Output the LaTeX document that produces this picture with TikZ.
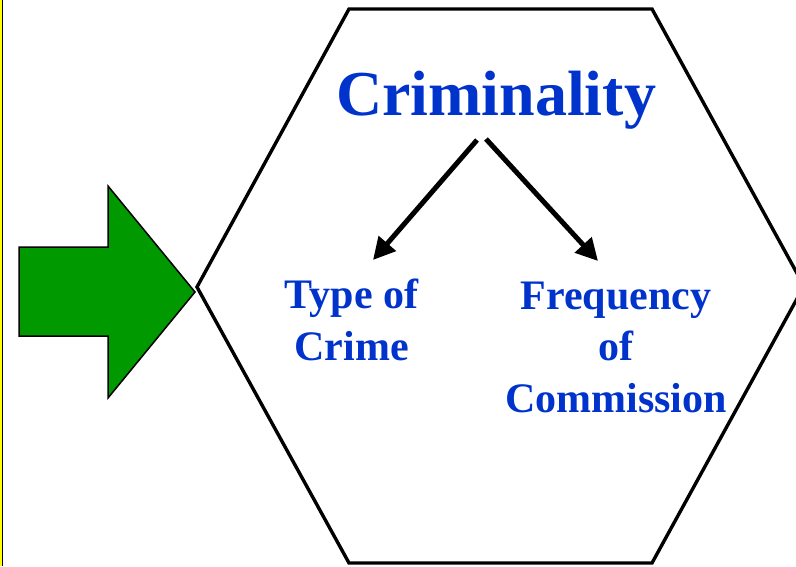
\documentclass[tikz,border=0pt]{standalone}
\usepackage{fontspec}
\setmainfont{Liberation Serif}
\usetikzlibrary{arrows.meta}
\definecolor{txtblue}{RGB}{0,51,204}
\definecolor{arrgreen}{RGB}{0,153,0}
\definecolor{stripe}{RGB}{255,255,0}
\tikzset{
  title/.style={text=txtblue, font=\fontsize{64}{70}\selectfont\bfseries, inner sep=0pt, anchor=base},
  sublabel/.style={text=txtblue, font=\fontsize{42}{51.5}\selectfont\bfseries, inner sep=0pt, align=center, anchor=base},
  hexline/.style={draw=black, line width=3.4pt, line join=miter},
  branch/.style={draw=black, line width=5pt, -{Triangle[length=22pt,width=22pt]}},
  bigarrow/.style={draw=black, fill=arrgreen, line width=1.5pt, line join=miter}
}
\begin{document}
\begin{tikzpicture}[x=1pt,y=-1pt]
\useasboundingbox (0,0) rectangle (796,566);
\clip (0,0) rectangle (796,566);
\fill[white] (0,0) rectangle (796,566);
% left stripe
\fill[stripe] (0,0) rectangle (2,566);
\draw[black, line width=1pt] (2.5,0) -- (2.5,566);
% hexagon
\draw[hexline] (349,9) -- (652,9) -- (804,286) -- (652,563) -- (349,563) -- (197,287) -- cycle;
% green arrow
\draw[bigarrow] (19,247) -- (108,247) -- (108,186) -- (195,292) -- (108,398) -- (108,336) -- (19,336) -- cycle;
% texts
\node[title] (crim) at (496,115) {Criminality};
\node[sublabel] (type) at (351.5,360) {Type of\\Crime};
\node[sublabel] (freq) at (616,412) {Frequency\\of\\Commission};
% branches
\coordinate (s1) at (477,140);
\coordinate (s2) at (486,139);
\coordinate (e1) at (373,260);
\coordinate (e2) at (598,261);
\draw[branch] (s1) -- (e1);
\draw[branch] (s2) -- (e2);
\end{tikzpicture}
\end{document}
